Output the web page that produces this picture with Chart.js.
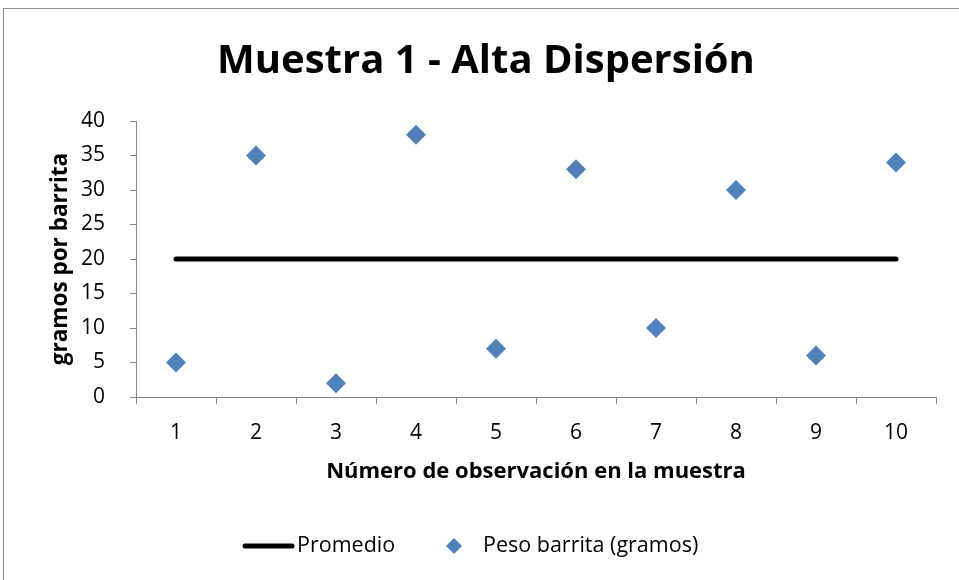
<!DOCTYPE html>
<html>
<head>
<meta charset="utf-8">
<script src="https://cdn.jsdelivr.net/npm/chart.js@4.4.1/dist/chart.umd.min.js"></script>
<style>
  html, body { margin: 0; padding: 0; background: #ffffff; }
  #wrap { width: 959px; height: 580px; position: relative; }
</style>
</head>
<body>
<div id="wrap"><canvas id="c" width="959" height="580"></canvas></div>
<script>
// Observation numbers along the category axis
const observaciones = ['1', '2', '3', '4', '5', '6', '7', '8', '9', '10'];
// Weight of each bar in grams
const pesoBarrita = [5, 35, 2, 38, 7, 33, 10, 30, 6, 34];
// Sample mean, repeated for every observation
const promedio = [20, 20, 20, 20, 20, 20, 20, 20, 20, 20];
// Value axis range
const yMin = 0;
const yMax = 40;
const yStep = 5;

const tituloGrafico = 'Muestra 1 - Alta Dispersión';
const tituloEjeX = 'Número de observación en la muestra';
const tituloEjeY = 'gramos por barrita';
const nombrePromedio = 'Promedio';
const nombrePeso = 'Peso barrita (gramos)';

const FONT = '"Open Sans", Lato, sans-serif';
const AXIS_GREY = '#868686';
const BLUE = '#4F81BD';

// Draws the frame, chart title, axis titles and the legend row
const decorations = {
  id: 'decorations',
  beforeDraw(chart) {
    const ctx = chart.ctx;
    ctx.save();
    ctx.strokeStyle = '#8c8c8c';
    ctx.lineWidth = 1;
    ctx.strokeRect(3.5, 8.5, 1200, 1200);
    ctx.restore();
  },
  afterDraw(chart) {
    const ctx = chart.ctx;
    const area = chart.chartArea;
    ctx.save();
    ctx.fillStyle = '#000000';
    ctx.textAlign = 'center';
    ctx.textBaseline = 'middle';

    // chart title
    ctx.font = 'bold 40px ' + FONT;
    ctx.fillText(tituloGrafico, 486, 62);

    // x-axis title
    ctx.font = 'bold 22px ' + FONT;
    ctx.fillText(tituloEjeX, (area.left + area.right) / 2, 472);

    // y-axis title (rotated)
    ctx.font = 'bold 22.5px ' + FONT;
    ctx.save();
    ctx.translate(61, (area.top + area.bottom) / 2);
    ctx.rotate(-Math.PI / 2);
    ctx.fillText(tituloEjeY, 0, 0);
    ctx.restore();

    // legend
    const ly = 546;
    ctx.strokeStyle = '#000000';
    ctx.lineWidth = 5;
    ctx.lineCap = 'round';
    ctx.beginPath();
    ctx.moveTo(245, ly);
    ctx.lineTo(292, ly);
    ctx.stroke();

    ctx.font = '21.5px ' + FONT;
    ctx.textAlign = 'left';
    ctx.fillText(nombrePromedio, 297, ly);

    ctx.fillStyle = BLUE;
    ctx.beginPath();
    ctx.moveTo(454, ly - 8);
    ctx.lineTo(462, ly);
    ctx.lineTo(454, ly + 8);
    ctx.lineTo(446, ly);
    ctx.closePath();
    ctx.fill();

    ctx.fillStyle = '#000000';
    ctx.fillText(nombrePeso, 483, ly);
    ctx.restore();
  }
};

new Chart(document.getElementById('c'), {
  type: 'line',
  data: {
    labels: observaciones,
    datasets: [
      {
        label: nombrePromedio,
        data: promedio,
        borderColor: '#000000',
        borderWidth: 5,
        borderCapStyle: 'round',
        pointRadius: 0,
        pointHoverRadius: 0,
        fill: false,
        order: 2
      },
      {
        label: nombrePeso,
        data: pesoBarrita,
        showLine: false,
        pointStyle: 'rectRot',
        pointRadius: 10,
        pointBorderWidth: 0,
        pointBackgroundColor: BLUE,
        pointBorderColor: BLUE,
        order: 1
      }
    ]
  },
  options: {
    responsive: false,
    animation: false,
    devicePixelRatio: 1,
    layout: { padding: { top: 121, right: 23, bottom: 0, left: 0 } },
    plugins: {
      legend: { display: false },
      title: { display: false },
      tooltip: { enabled: false }
    },
    scales: {
      x: {
        type: 'category',
        offset: true,
        afterFit(scale) { scale.height = 183; },
        grid: {
          offset: true,
          drawOnChartArea: false,
          drawTicks: true,
          tickLength: 7,
          color: AXIS_GREY
        },
        border: { color: AXIS_GREY, width: 1 },
        ticks: {
          color: '#000000',
          font: { family: FONT, size: 21 },
          padding: 16,
          maxRotation: 0,
          autoSkip: false
        }
      },
      y: {
        min: yMin,
        max: yMax,
        afterFit(scale) { scale.width = 136; },
        grid: {
          drawOnChartArea: false,
          drawTicks: true,
          tickLength: 6,
          color: AXIS_GREY
        },
        border: { color: AXIS_GREY, width: 1 },
        ticks: {
          stepSize: yStep,
          color: '#000000',
          font: { family: FONT, size: 21 },
          padding: 25
        }
      }
    }
  },
  plugins: [decorations]
});
</script>
</body>
</html>
